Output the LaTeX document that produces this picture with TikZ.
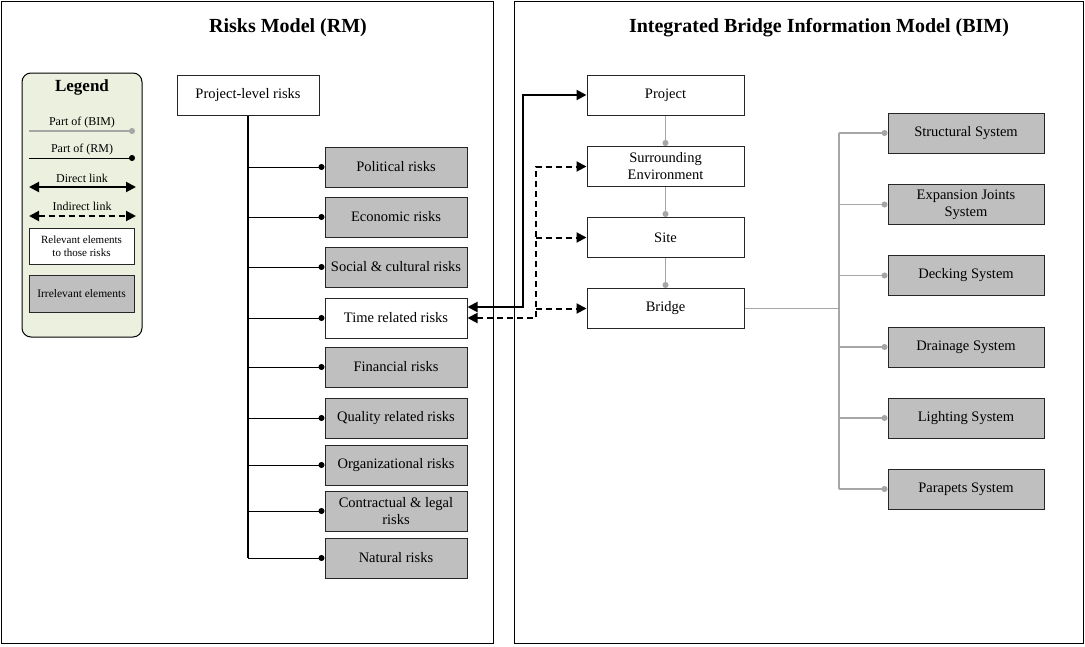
\documentclass[tikz,border=0pt]{standalone}
\usepackage{fontspec}
\setmainfont{Liberation Serif}
\usetikzlibrary{arrows.meta}
\definecolor{boxgray}{HTML}{BFBFBF}
\definecolor{bimgray}{HTML}{A6A6A6}
\definecolor{legendgreen}{HTML}{EBF1DE}

\begin{document}
\begin{tikzpicture}[x=1pt,y=-1pt]
\tikzset{every node/.style={font=\fontsize{14.5}{17}\selectfont, align=center, inner sep=1pt}}
\tikzset{relbox/.style={draw=black!85, line width=1pt, fill=white, minimum width=142pt, minimum height=40pt}}
\tikzset{irrbox/.style={relbox, fill=boxgray}}
\tikzset{bimbox/.style={relbox, minimum width=157pt}}
\tikzset{subbox/.style={irrbox, minimum width=156pt}}
\tikzset{legtext/.style={font=\fontsize{12}{13.5}\selectfont}}
\tikzset{title/.style={font=\fontsize{20}{24}\selectfont\bfseries}}
\tikzset{rmpart/.style={line width=1pt, -{Circle[length=6pt]}}}
\tikzset{bimpart/.style={bimgray, line width=1.2pt, -{Circle[length=6pt]}}}
\tikzset{direct/.style={line width=2pt, {Triangle[length=10pt,width=10pt]}-{Triangle[length=10pt,width=10pt]}}}
\tikzset{indirect/.style={line width=2pt, dash pattern=on 6pt off 4pt, -{Triangle[length=10pt,width=10pt]}}}
\useasboundingbox (0,0) rectangle (1085,646);
\draw[line width=0.8pt] (1.5,1.5) rectangle (493,643);
\draw[line width=0.8pt] (514,1.5) rectangle (1083,643);
\node[title] (rmtitle) at (288,28) {Risks Model (RM)};
\node[title] (bimtitle) at (819,28) {Integrated Bridge Information Model (BIM)};

\draw[line width=1pt, fill=legendgreen, rounded corners=9pt] (22,73) rectangle (142,337);
\node[font=\fontsize{17}{20}\selectfont\bfseries] (legend) at (82,87) {Legend};
\node[legtext] (lbim) at (82,123) {Part of (BIM)};
\coordinate (lbima) at (29,131);
\coordinate (lbimb) at (135,131);
\draw[bimpart] (lbima) -- (lbimb);
\node[legtext] (lrm) at (82,150) {Part of (RM)};
\coordinate (lrma) at (29,158);
\coordinate (lrmb) at (135,158);
\draw[rmpart] (lrma) -- (lrmb);
\node[legtext] (ldir) at (82,178) {Direct link};
\coordinate (ldira) at (29,187);
\coordinate (ldirb) at (136,187);
\draw[direct] (ldira) -- (ldirb);
\node[legtext] (lind) at (82,206) {Indirect link};
\coordinate (linda) at (29,216);
\coordinate (lindb) at (136,216);
\draw[indirect, {Triangle[length=10pt,width=10pt]}-{Triangle[length=10pt,width=10pt]}] (linda) -- (lindb);
\node[relbox, legtext, minimum width=105pt, minimum height=36pt, font=\fontsize{11}{13}\selectfont] (lrel) at (81.5,246) {Relevant elements\\to those risks};
\node[irrbox, legtext, minimum width=105pt, minimum height=37pt, font=\fontsize{11.5}{13}\selectfont] (lirr) at (81.5,293.5) {Irrelevant elements};

\node[relbox] (plr) at (248,95) {Project-level risks};
\node[irrbox] (pol) at (396,167) {Political risks};
\node[irrbox] (eco) at (396,217) {Economic risks};
\node[irrbox] (soc) at (396,267) {Social \& cultural risks};
\node[relbox] (tim) at (396,318) {Time related risks};
\node[irrbox] (fin) at (396,367) {Financial risks};
\node[irrbox] (qua) at (396,418) {Quality related risks};
\node[irrbox] (org) at (396,465) {Organizational risks};
\node[irrbox] (con) at (396,511) {Contractual \& legal\\risks};
\node[irrbox] (nat) at (396,558) {Natural risks};
\draw[line width=2pt] (plr.south) -- (plr.south |- nat.west);
\foreach \r in {pol,eco,soc,tim,fin,qua,org,con,nat}
  \draw[rmpart] (plr.south |- \r.west) -- (\r.west);

\node[bimbox] (prj) at (665.5,95) {Project};
\node[bimbox] (sur) at (665.5,166.5) {Surrounding\\Environment};
\node[bimbox] (sit) at (665.5,237.5) {Site};
\node[bimbox] (brg) at (665.5,308.5) {Bridge};
\draw[bimpart] (prj) -- (sur);
\draw[bimpart] (sur) -- (sit);
\draw[bimpart] (sit) -- (brg);

\node[subbox] (str) at (966,133) {Structural System};
\node[subbox] (exp) at (966,204.5) {Expansion Joints\\System};
\node[subbox] (dek) at (966,275.5) {Decking System};
\node[subbox] (drn) at (966,347) {Drainage System};
\node[subbox] (lit) at (966,418) {Lighting System};
\node[subbox] (par) at (966,489) {Parapets System};
\coordinate (bus) at (839,308.5);
\draw[bimgray, line width=1.2pt] (brg.east) -- (bus);
\draw[bimgray, line width=1.2pt] (bus |- str.west) -- (bus |- par.west);
\foreach \s in {str,exp,dek,drn,lit,par}
  \draw[bimpart] (bus |- \s.west) -- (\s.west);

\draw[direct] ([yshift=11pt]tim.east) -| ([xshift=-64pt]prj.west) -- (prj.west);
\coordinate (dlink) at ([xshift=-51pt]sur.west);
\draw[indirect, {Triangle[length=10pt,width=10pt]}-{Triangle[length=10pt,width=10pt]}] (tim.east) -| (dlink) -- (sur.west);
\draw[indirect] (dlink |- sit.west) -- (sit.west);
\draw[indirect] (dlink |- brg.west) -- (brg.west);
\end{tikzpicture}
\end{document}
